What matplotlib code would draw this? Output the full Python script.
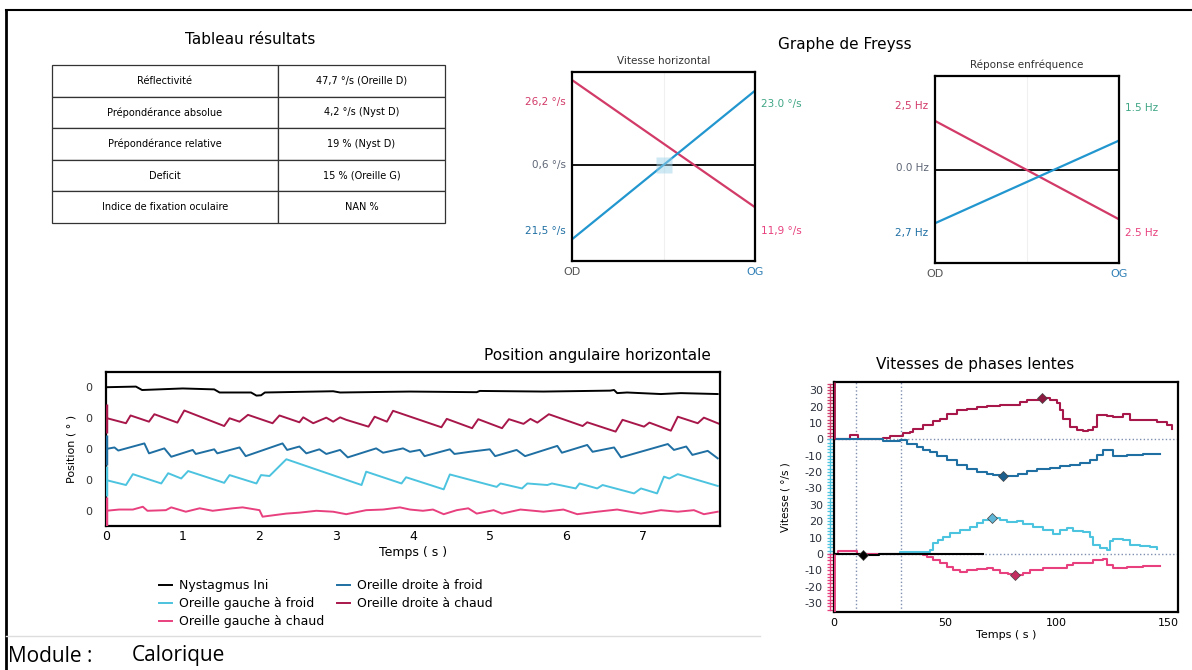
import numpy as np
import matplotlib.pyplot as plt
from matplotlib.lines import Line2D

W, H = 1192, 670

RED = "#d23a68"
DARK_RED = "#a8174a"
BLUE = "#2196cf"
DARK_BLUE = "#1f6fa3"
CYAN = "#4cc3df"
PINK = "#e8407e"
DOTTED = "#7f8fb0"

# ---- Tableau résultats
TABLE_LABELS = ["Réflectivité", "Prépondérance absolue", "Prépondérance relative",
                "Deficit", "Indice de fixation oculaire"]
TABLE_VALUES = ["47,7 °/s (Oreille D)", "4,2 °/s (Nyst D)", "19 % (Nyst D)",
                "15 % (Oreille G)", "NAN %"]

# ---- Graphe de Freyss (OD -> OG)
FREYSS_SIDES = ["OD", "OG"]
VITESSE_ROUGE = [26.2, -11.9]
VITESSE_BLEU = [-21.5, 23.0]
VITESSE_CENTRE = 0.6
VITESSE_TEXTES = ["26,2 °/s", "0,6 °/s", "21,5 °/s", "23.0 °/s", "11,9 °/s"]
FREQ_ROUGE = [2.5, -2.5]
FREQ_BLEU = [-2.7, 1.5]
FREQ_CENTRE = 0.0
FREQ_TEXTES = ["2,5 Hz", "0.0 Hz", "2,7 Hz", "1.5 Hz", "2.5 Hz"]

# ---- Position angulaire horizontale (deviation around each trace's own 0)
NYST_T = [0.0, 0.39, 0.47, 1.00, 1.41, 1.48, 1.89, 1.96, 2.02, 2.07, 2.96, 3.05, 3.96,
          4.83, 4.87, 5.70, 6.57, 6.62, 6.66, 6.79, 7.23, 7.49, 7.97]
NYST_POS = [-0.01, 0.01, -0.10, -0.05, -0.08, -0.18, -0.18, -0.28, -0.27, -0.18, -0.14,
            -0.18, -0.15, -0.17, -0.13, -0.15, -0.12, -0.10, -0.20, -0.18, -0.23, -0.20, -0.23]

OD_CHAUD_T = [0.0, 0.26, 0.32, 0.56, 0.63, 0.93, 1.02, 1.54, 1.61, 1.74, 1.85, 2.17, 2.26,
              2.52, 2.57, 2.70, 2.87, 2.96, 3.05, 3.13, 3.42, 3.50, 3.66, 3.74, 4.37, 4.44,
              4.77, 4.85, 5.16, 5.25, 5.44, 5.53, 5.62, 5.77, 6.21, 6.27, 6.64, 6.73, 7.01,
              7.08, 7.36, 7.45, 7.71, 7.79, 7.99]
OD_CHAUD_POS = [0.0, -0.17, 0.08, -0.12, 0.12, -0.15, 0.24, -0.26, -0.01, -0.12, 0.10, -0.17,
                0.08, -0.14, 0.02, -0.17, 0.01, -0.12, 0.02, -0.06, -0.28, 0.04, -0.12, 0.23,
                -0.30, -0.03, -0.33, -0.04, -0.33, -0.04, -0.19, -0.03, -0.15, 0.12, -0.26,
                -0.14, -0.44, -0.06, -0.28, -0.15, -0.41, 0.04, -0.17, 0.01, -0.19]

OD_FROID_T = [0.0, 0.11, 0.16, 0.50, 0.56, 0.76, 0.85, 1.13, 1.17, 1.41, 1.45, 1.74, 1.82,
              2.30, 2.36, 2.52, 2.61, 2.78, 2.87, 3.05, 3.15, 3.52, 3.61, 3.87, 3.96, 4.09,
              4.15, 4.48, 4.54, 4.74, 5.00, 5.07, 5.35, 5.46, 5.88, 5.94, 6.27, 6.34, 6.62,
              6.71, 7.32, 7.40, 7.56, 7.64, 7.84, 7.97]
OD_FROID_POS = [0.0, 0.05, -0.05, 0.18, -0.14, 0.02, -0.25, -0.03, -0.16, -0.01, -0.14, 0.05,
                -0.23, 0.18, -0.03, 0.08, -0.14, -0.01, -0.16, -0.03, -0.27, 0.02, -0.12, 0.02,
                -0.09, -0.03, -0.23, -0.01, -0.16, -0.09, -0.01, -0.23, -0.03, -0.23, 0.10,
                -0.12, 0.13, -0.09, 0.05, -0.27, 0.16, -0.03, 0.08, -0.19, -0.06, -0.30]

OG_FROID_T = [0.0, 0.26, 0.35, 0.72, 0.81, 0.98, 1.07, 1.54, 1.61, 1.96, 2.02, 2.13, 2.35,
              3.33, 3.39, 3.85, 3.91, 4.40, 4.48, 5.09, 5.14, 5.42, 5.49, 5.75, 5.81, 6.12,
              6.17, 6.40, 6.47, 6.88, 6.97, 7.18, 7.27, 7.34, 7.45, 7.97]
OG_FROID_POS = [0.0, -0.16, 0.19, -0.11, 0.22, 0.05, 0.29, -0.09, 0.16, -0.11, 0.16, 0.13,
                0.67, -0.16, 0.27, -0.11, 0.09, -0.30, 0.18, -0.22, -0.11, -0.27, -0.11,
                -0.16, -0.11, -0.27, -0.11, -0.27, -0.16, -0.43, -0.27, -0.43, 0.11, 0.05,
                0.19, -0.19]

OG_CHAUD_T = [0.0, 0.17, 0.35, 0.48, 0.54, 0.78, 0.85, 1.04, 1.22, 1.39, 1.65, 1.78, 2.00,
              2.04, 2.35, 2.52, 2.74, 2.96, 3.13, 3.39, 3.61, 3.83, 3.96, 4.13, 4.26, 4.40,
              4.57, 4.72, 4.83, 5.05, 5.16, 5.40, 5.70, 5.96, 6.14, 6.40, 6.66, 6.97, 7.23,
              7.45, 7.66, 7.79, 7.97]
OG_CHAUD_POS = [0.01, 0.05, 0.05, 0.14, 0.01, 0.03, 0.12, -0.02, 0.09, 0.01, 0.09, 0.12, 0.03,
                -0.18, -0.08, -0.05, 0.01, -0.02, -0.10, 0.03, 0.05, 0.12, 0.05, 0.01, 0.05,
                -0.10, 0.03, 0.09, -0.08, 0.03, -0.08, 0.05, -0.02, 0.05, -0.10, -0.02, 0.05,
                -0.08, 0.03, -0.02, 0.03, -0.10, -0.02]

# ---- Vitesses de phases lentes (°/s)
VPL_OD_CHAUD_T = [0, 7.2, 10.9, 22.2, 25.1, 31.1, 34.1, 35.6, 40.1, 44.6, 47.6, 50.6, 55.1,
                  59.6, 64.1, 68.6, 74.5, 80.5, 83.5, 86.5, 93.3, 97.0, 100.0, 101.5, 103.0,
                  106.0, 109.0, 112.0, 114.2, 116.5, 117.9, 122.4, 125.4, 129.9, 132.9, 138.9,
                  144.9, 149.4, 151.6]
VPL_OD_CHAUD = [0, 2.4, 0, 1.0, 2.0, 4.0, 4.5, 6.5, 8.6, 11.2, 12.7, 15.7, 17.8, 18.8, 19.5,
                20.2, 20.8, 20.8, 22.9, 24.3, 25.3, 23.9, 22.2, 17.8, 12.7, 7.6, 5.5, 5.1, 5.9,
                7.6, 14.7, 14.0, 13.7, 15.3, 12.0, 11.6, 10.6, 8.6, 6.5]

VPL_OD_FROID_T = [0, 22.2, 29.6, 32.6, 37.1, 40.1, 43.1, 46.1, 50.6, 55.1, 59.6, 64.1, 68.6,
                  71.5, 76.0, 82.8, 86.5, 91.0, 97.0, 101.5, 106.0, 110.5, 115.0, 117.9, 120.9,
                  125.4, 131.4, 138.9, 146.4]
VPL_OD_FROID = [0, -1.0, -0.5, -2.7, -4.7, -6.3, -7.8, -10.4, -12.9, -15.9, -18.0, -20.0,
                -21.4, -22.0, -22.4, -21.0, -19.6, -18.0, -17.3, -16.5, -15.9, -14.5, -12.9,
                -9.8, -6.7, -10.4, -9.8, -9.2, -9.2]

VPL_OG_FROID_T = [0, 29.6, 41.6, 43.1, 44.6, 46.8, 49.1, 52.1, 56.6, 61.1, 64.1, 67.1, 70.8,
                  74.5, 77.5, 82.0, 85.0, 89.5, 94.0, 98.5, 101.5, 104.5, 107.5, 112.0, 115.0,
                  116.5, 119.5, 122.4, 123.9, 125.4, 129.9, 132.9, 137.4, 141.9, 144.9]
VPL_OG_FROID = [0, 1.0, 1.0, 2.4, 6.5, 8.6, 10.6, 12.7, 14.7, 16.7, 18.8, 20.8, 22.2, 20.4,
                19.2, 19.8, 18.4, 16.7, 14.7, 12.2, 14.7, 15.7, 13.7, 13.1, 10.6, 5.5, 3.5, 2.4,
                7.6, 9.0, 8.2, 5.5, 4.9, 4.5, 2.9]

VPL_OG_CHAUD_T = [0, 1.9, 10.2, 40.1, 41.6, 44.6, 47.6, 50.6, 53.6, 56.6, 59.6, 64.1, 68.6,
                  71.5, 74.5, 78.0, 81.3, 85.0, 88.0, 94.0, 104.5, 107.5, 110.5, 116.5, 121.0,
                  122.4, 125.4, 131.4, 138.9, 146.4]
VPL_OG_CHAUD = [0, 1.5, 0, -0.5, -2.0, -3.7, -5.7, -7.8, -9.8, -10.8, -9.8, -9.4, -8.8, -9.8,
                -11.4, -12.2, -12.9, -11.4, -9.8, -8.8, -6.7, -5.7, -5.3, -3.7, -3.3, -6.7,
                -8.8, -7.8, -7.3, -7.1]

VPL_NYST_T = [0, 12.9, 20.0, 67.0]
VPL_NYST = [0, -0.5, 0, 0]

VPL_MARKS = [10, 30]   # vertical dotted lines (s)


def px_axes(fig, left, top, right, bottom):
    return fig.add_axes([left / W, 1 - bottom / H, (right - left) / W, (bottom - top) / H])


def frame(ax, lw=1.5):
    for s in ax.spines.values():
        s.set_linewidth(lw)
        s.set_color("black")


def draw_table(fig):
    fig.text(250 / W, 1 - 40 / H, "Tableau résultats", ha="center", va="center", fontsize=11)
    ax = px_axes(fig, 52, 65, 445, 223)
    ax.axis("off")
    tab = ax.table(cellText=[[a, b] for a, b in zip(TABLE_LABELS, TABLE_VALUES)],
                   cellLoc="center", colWidths=[226 / 393, 167 / 393], bbox=[0, 0, 1, 1])
    tab.auto_set_font_size(False)
    for cell in tab.get_celld().values():
        cell.set_fontsize(7)
        cell.set_linewidth(0.9)
        cell.set_edgecolor("#333333")


def draw_freyss(fig, box, title, rouge, bleu, centre, textes, ylim, highlight=False):
    ax = px_axes(fig, *box)
    x = [0, 1]
    ax.axvline(0.5, color="#f0f0f0", lw=0.8)
    ax.axhline(centre, color="black", lw=1.3)
    ax.plot(x, rouge, color=RED, lw=1.6)
    ax.plot(x, bleu, color=BLUE, lw=1.6)
    if highlight:
        ax.plot(0.5, centre, marker="s", ms=11, color="#9fd3ea", alpha=0.5, mec="none")
    ax.set_xlim(0, 1)
    ax.set_ylim(*ylim)
    ax.set_yticks([])
    ax.set_xticks(x, FREYSS_SIDES, fontsize=8)
    ax.tick_params(axis="x", length=0, pad=4)
    lbls = ax.get_xticklabels()
    lbls[0].set_color("#555555")
    lbls[1].set_color("#2f7fb5")
    frame(ax, 1.6)
    ax.set_title(title, fontsize=7.5, color="#333333", pad=6)
    kw = dict(transform=ax.transAxes, fontsize=7.5, va="center")
    ax.text(-0.035, 0.84, textes[0], ha="right", color=RED, **kw)
    ax.text(-0.035, 0.51, textes[1], ha="right", color="#5d6575", **kw)
    ax.text(-0.035, 0.16, textes[2], ha="right", color=DARK_BLUE, **kw)
    ax.text(1.035, 0.83, textes[3], ha="left", color="#3ea585", **kw)
    ax.text(1.035, 0.16, textes[4], ha="left", color=PINK, **kw)


def draw_position(fig):
    ax = px_axes(fig, 106, 372, 720, 526)
    series = [
        (NYST_T, NYST_POS, "black", "Nystagmus Ini", 4),
        (OG_FROID_T, OG_FROID_POS, CYAN, "Oreille gauche à froid", 1),
        (OG_CHAUD_T, OG_CHAUD_POS, PINK, "Oreille gauche à chaud", 0),
        (OD_FROID_T, OD_FROID_POS, DARK_BLUE, "Oreille droite à froid", 2),
        (OD_CHAUD_T, OD_CHAUD_POS, DARK_RED, "Oreille droite à chaud", 3),
    ]
    handles = []
    for t, pos, color, name, lane in series:
        line, = ax.plot(t, np.array(pos) + lane, color=color, lw=1.4, label=name)
        handles.append(line)
        if lane < 4:
            ax.vlines(0, lane - 0.5, lane + 0.45, color=color, lw=2.5, zorder=5)
    ax.set_xlim(0, 8.0)
    ax.set_ylim(-0.48, 4.48)
    ax.set_yticks(range(5), ["0"] * 5, fontsize=8)
    ax.set_xticks(range(8))
    ax.tick_params(axis="x", labelsize=9, length=0, pad=3)
    ax.tick_params(axis="y", length=0, pad=10, labelcolor="#333333")
    ax.set_ylabel("Position ( ° )", fontsize=8, labelpad=6)
    ax.set_xlabel("Temps ( s )", fontsize=9, labelpad=2)
    frame(ax, 1.6)
    ax.text(0.985, 1.06, "Position angulaire horizontale", transform=ax.transAxes,
            ha="right", va="bottom", fontsize=11)
    fig.legend(handles=handles, loc="upper left", bbox_to_anchor=(148 / W, 1 - 568 / H),
               ncol=2, frameon=False, fontsize=9, handlelength=1.0, handletextpad=0.6,
               columnspacing=1.0, labelspacing=0.4)


def draw_vpl(fig):
    ax = px_axes(fig, 834, 382, 1178, 612)
    offset = 70
    ax.axhline(offset, color=DOTTED, lw=1, ls=":")
    ax.axhline(0, color=DOTTED, lw=1, ls=":")
    for m in VPL_MARKS:
        ax.axvline(m, color=DOTTED, lw=1, ls=":")
    series = [
        (VPL_OD_CHAUD_T, VPL_OD_CHAUD, DARK_RED, offset, np.argmax, "#8c1a40"),
        (VPL_OD_FROID_T, VPL_OD_FROID, DARK_BLUE, offset, np.argmin, "#1c5f8c"),
        (VPL_OG_FROID_T, VPL_OG_FROID, CYAN, 0, np.argmax, "#5fb6d6"),
        (VPL_OG_CHAUD_T, VPL_OG_CHAUD, PINK, 0, np.argmin, "#c42d60"),
        (VPL_NYST_T, VPL_NYST, "black", 0, np.argmin, "black"),
    ]
    for t, v, color, off, pick, mcol in series:
        v = np.array(v) + off
        ax.plot(t, v, color=color, lw=1.5, drawstyle="steps-post")
        i = pick(v)
        ax.plot(t[i], v[i], marker="D", ms=5, color=mcol, mec="#444444", mew=0.5, zorder=6)

    # coloured tick combs along the left axis, one colour per half-scale
    ytr = ax.get_yaxis_transform()
    combs = [(offset, offset + 34, "#d0406e"), (offset - 34, offset, CYAN),
             (0, 34, CYAN), (-34, 0, PINK)]
    for lo, hi, color in combs:
        ys = np.arange(lo, hi + 0.1, 2)
        ax.plot([-0.012] * 2, [lo, hi], color=color, lw=1, transform=ytr, clip_on=False)
        ax.plot([-0.012] * len(ys), ys, ls="none", marker="_", ms=5, mew=0.9,
                color=color, transform=ytr, clip_on=False)
    ax.vlines(0, offset, offset + 35, color=DARK_RED, lw=2, zorder=5)
    ax.vlines(0, -35.5, 0, color=PINK, lw=2, zorder=5)

    ax.set_xlim(0, 154.5)
    ax.set_ylim(-35.5, offset + 35)
    base = np.arange(-30, 31, 10)
    ticks = np.concatenate([base, base + offset])
    ax.set_yticks(ticks, [str(b) for b in base] * 2, fontsize=8)
    ax.set_xticks([0, 50, 100, 150])
    ax.tick_params(axis="x", labelsize=8, length=0, pad=4)
    ax.tick_params(axis="y", length=0, pad=8, labelcolor="#2a2f3a")
    ax.set_ylabel("Vitesse ( °/s )", fontsize=7.5, labelpad=10)
    ax.set_xlabel("Temps ( s )", fontsize=8, labelpad=2)
    frame(ax, 1.6)
    ax.text(0.41, 1.045, "Vitesses de phases lentes", transform=ax.transAxes,
            ha="center", va="bottom", fontsize=11)


fig = plt.figure(figsize=(W / 100, H / 100), dpi=100)
fig.patch.set_facecolor("white")

# page border lines of the scanned report
fig.add_artist(Line2D([6 / W, 6 / W], [0, 1 - 10 / H], color="black", lw=2,
                      transform=fig.transFigure))
fig.add_artist(Line2D([6 / W, 1], [1 - 10 / H, 1 - 10 / H], color="black", lw=1.5,
                      transform=fig.transFigure))
fig.add_artist(Line2D([6 / W, 760 / W], [1 - 636 / H, 1 - 636 / H], color="#dddddd", lw=1,
                      transform=fig.transFigure))

draw_table(fig)
fig.text(845 / W, 1 - 45 / H, "Graphe de Freyss", ha="center", va="center", fontsize=11)
draw_freyss(fig, (572, 72, 755, 261), "Vitesse horizontal", VITESSE_ROUGE, VITESSE_BLEU,
            VITESSE_CENTRE, VITESSE_TEXTES, (-28, 28.6), highlight=True)
draw_freyss(fig, (935, 76, 1119, 263), "Réponse enfréquence", FREQ_ROUGE, FREQ_BLEU,
            FREQ_CENTRE, FREQ_TEXTES, (-4.72, 4.78))
draw_position(fig)
draw_vpl(fig)

fig.text(8 / W, 1 - 656 / H, "Module :", ha="left", va="center", fontsize=15,
         family="Open Sans")
fig.text(132 / W, 1 - 656 / H, "Calorique", ha="left", va="center", fontsize=15,
         family="Open Sans")

fig.savefig("out.png", dpi=100)
